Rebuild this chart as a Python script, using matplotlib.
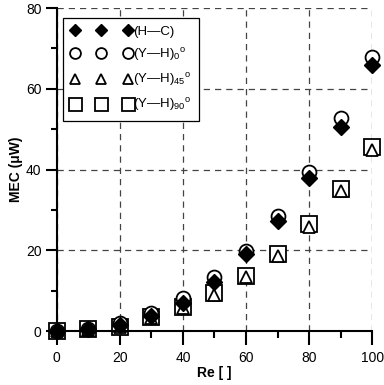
import matplotlib
matplotlib.use("Agg")
import matplotlib.pyplot as plt
from matplotlib.ticker import MultipleLocator

plt.rcParams['font.family'] = ['Liberation Sans', 'DejaVu Sans']
plt.rcParams['mathtext.fontset'] = 'custom'
plt.rcParams['mathtext.rm'] = 'Liberation Sans'

re_vals = [0, 10, 20, 30, 40, 50, 60, 70, 80, 90, 100]
hc = [0.0, 0.4, 1.5, 3.8, 7.0, 12.2, 19.0, 27.3, 37.9, 50.5, 65.8]
yh0 = [0.0, 0.5, 2.0, 4.4, 8.3, 13.4, 19.8, 28.5, 39.3, 52.9, 67.9]
yh45 = [0.0, 0.3, 1.0, 3.2, 5.6, 8.9, 13.3, 18.6, 25.8, 34.7, 44.8]
yh90 = [0.0, 0.4, 1.1, 3.4, 5.9, 9.5, 13.7, 19.2, 26.5, 35.1, 45.5]

labels = ['(H—C)', r'(Y—H)$_{\mathrm{0}}$$^{\mathrm{o}}$',
          r'(Y—H)$_{\mathrm{45}}$$^{\mathrm{o}}$', r'(Y—H)$_{\mathrm{90}}$$^{\mathrm{o}}$']

fig = plt.figure(figsize=(3.84, 3.85), dpi=100)
ax = fig.add_axes([0.148, 0.140, 0.821, 0.839])

kw = dict(linestyle='none', clip_on=False, markeredgecolor='black')
l4, = ax.plot(re_vals, yh90, marker='s', ms=12, mfc='white', mew=1.3, label=labels[3], **kw)
l3, = ax.plot(re_vals, yh45, marker='^', ms=9, mfc='white', mew=1.3, label=labels[2], **kw)
l2, = ax.plot(re_vals, yh0, marker='o', ms=10, mfc='white', mew=1.3, label=labels[1], **kw)
l1, = ax.plot(re_vals, hc, marker='D', ms=8, mfc='black', mew=1.0, label=labels[0], **kw)

ax.set_xlim(0, 100)
ax.set_ylim(0, 80)
ax.xaxis.set_major_locator(MultipleLocator(20))
ax.xaxis.set_minor_locator(MultipleLocator(10))
ax.yaxis.set_major_locator(MultipleLocator(20))
ax.yaxis.set_minor_locator(MultipleLocator(10))

for side in ['top', 'right']:
    ax.spines[side].set_visible(False)
for side in ['left', 'bottom']:
    ax.spines[side].set_linewidth(1.5)

ax.tick_params(axis='x', which='major', direction='out', length=10, width=1.5, labelsize=10, pad=4)
ax.tick_params(axis='x', which='minor', direction='out', length=5, width=1.5)
ax.tick_params(axis='y', which='major', direction='out', length=8, width=1.5, labelsize=10, pad=3)
ax.tick_params(axis='y', which='minor', direction='out', length=4, width=1.5)

ax.grid(True, which='major', linestyle=(0, (5, 4)), color='#444444', linewidth=0.9)
ax.set_axisbelow(True)

ax.set_xlabel('Re [ ]', fontsize=10, fontweight='bold', labelpad=1)
ax.set_ylabel('MEC (μW)', fontsize=10, fontweight='bold', labelpad=2)

leg = ax.legend(handles=[l1, l2, l3, l4], loc='upper left', numpoints=3,
                markerscale=0.78, handlelength=4.6, handletextpad=0.1,
                labelspacing=0.62, fontsize=9.5, frameon=True, fancybox=False,
                borderpad=0.6, borderaxespad=0.0,
                bbox_to_anchor=(0.02, 0.97))
leg.get_frame().set_edgecolor('black')
leg.get_frame().set_linewidth(0.9)
leg.get_frame().set_alpha(1)

fig.savefig('out.png', dpi=100)
